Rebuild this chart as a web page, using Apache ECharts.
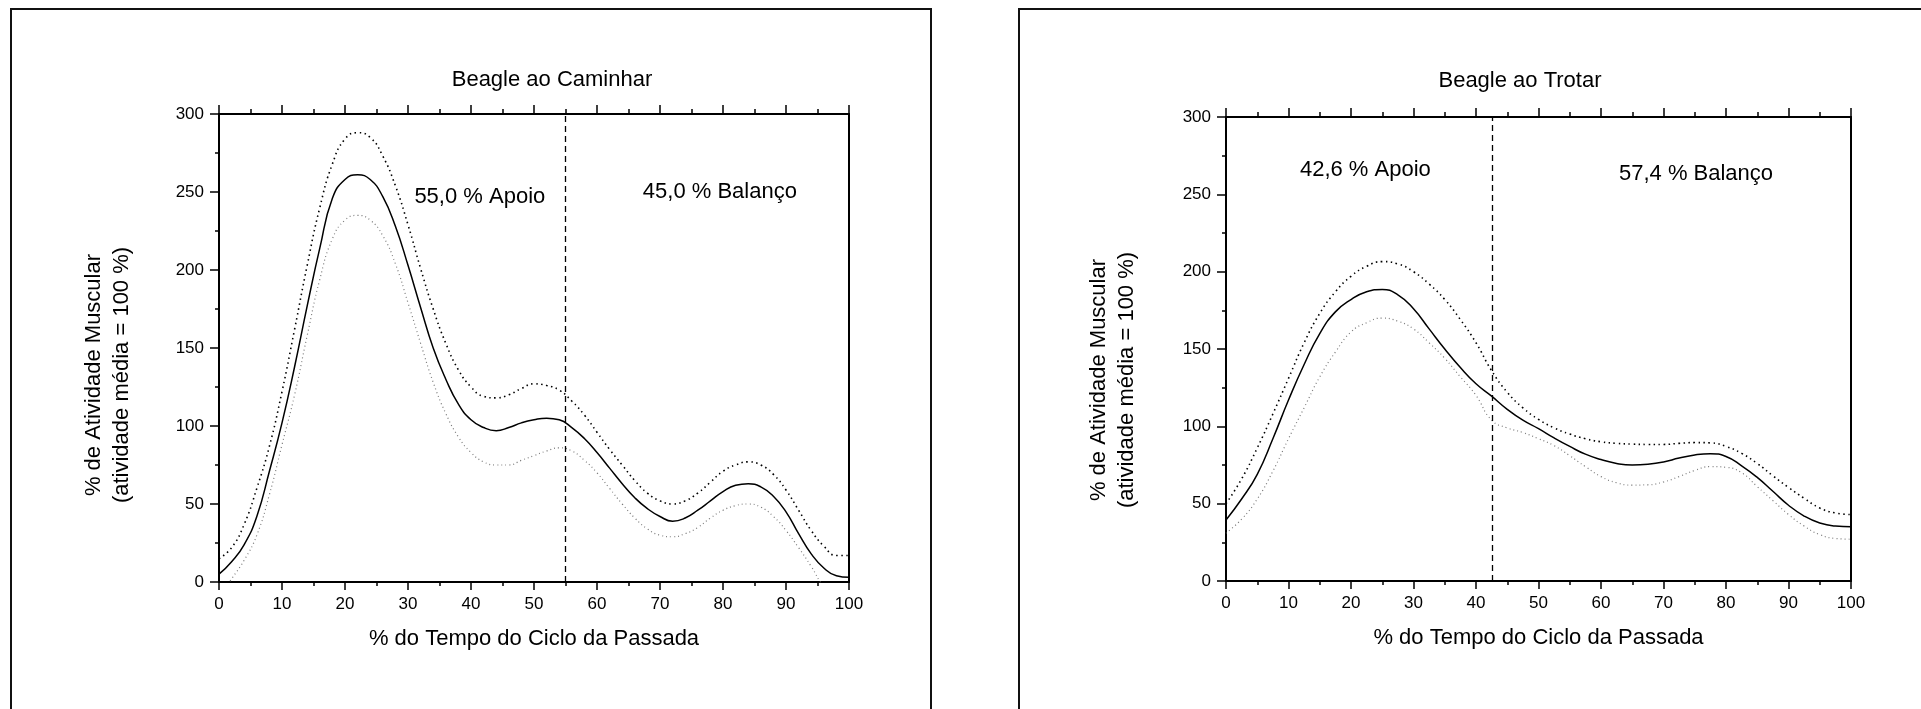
<!DOCTYPE html>
<html>
<head>
<meta charset="utf-8">
<title>Beagle - atividade muscular</title>
<script src="https://cdn.jsdelivr.net/npm/echarts@6/dist/echarts.min.js"></script>
<style>
html, body { margin: 0; padding: 0; background: #fff; }
#chart { width: 1921px; height: 709px; }
</style>
</head>
<body>
<div id="chart"></div>
<script>
var FONT = '"Liberation Sans", Arial, Helvetica, sans-serif';

// Beagle ao Caminhar, x every 2 %
var xWalk = [0,2,4,6,8,10,12,14,16,18,20,22,24,26,28,30,32,34,36,38,40,42,44,46,48,50,
             52,54,56,58,60,62,64,66,68,70,72,74,76,78,80,82,84,86,88,90,92,94,96,98,100];
var walkMean = [5,13,24,42,71,102,138,177,214,246,258,261,258,247,228,203,176,150,130,114,104,99,97,99,102,104,
                105,104,99,92,83,73,63,54,47,42,39,41,46,52,58,62,63,61,55,45,31,18,9,4,3];
var walkUpper = [15,22,37,60,87,122,162,203,240,268,284,288,285,273,254,229,201,175,153,136,125,119,118,120,124,127,
                 126,123,116,107,96,85,75,65,57,52,50,52,57,64,71,75,77,75,69,59,46,33,23,17,17];
var walkLower = [-10,2,14,30,56,88,120,158,194,220,232,235,232,222,204,179,153,128,108,93,83,77,75,75,78,81,
                 84,86,84,78,70,60,50,41,34,30,29,31,35,41,46,49,50,48,42,33,22,10,-3,-10,-12];
var walkPhase = 55.0;
var walkNotes = ['55,0 % Apoio', '45,0 % Balanço'];
var walkNoteAt = [[41.4, 247], [79.5, 250]];

// Beagle ao Trotar, x every 2.5 %
var xTrot = [0,2.5,5,7.5,10,12.5,15,17.5,20,22.5,25,27.5,30,32.5,35,37.5,40,42.5,45,47.5,50,
             52.5,55,57.5,60,62.5,65,67.5,70,72.5,75,77.5,80,82.5,85,87.5,90,92.5,95,97.5,100];
var trotMean = [39.5,53,69,92,117,140,160,174,182,187,188.5,185,176,163,150,138,127.5,119.5,111,104,98.5,
                92.5,87,82,78.5,76,75,75.5,77,79.5,81.5,82.3,80.5,74.5,67,58,49,42,37.5,35.5,35];
var trotUpper = [50,66,86,108,131,154,173,187,197,203.5,206.5,205,200,192,182,169,154,136,122,112,104.5,
                 99,95,92,90,89,88.5,88.3,88.3,89,89.5,89.3,87,82.5,76,68,60.5,53.5,47.2,44,43];
var trotLower = [31,40,53,71,92,112,132,148,161,167,170,168,163,154,144,132,120,104,99,96,92,
                 87.5,81,74,67.5,63.5,62,62.2,64,67.5,71.5,74,73.5,70,61,52,43,35.5,30,27.5,27];
var trotPhase = 42.6;
var trotNotes = ['42,6 % Apoio', '57,4 % Balanço'];
var trotNoteAt = [[22.3, 266], [75.2, 263]];

var titles = ['Beagle ao Caminhar', 'Beagle ao Trotar'];
var xName = '% do Tempo do Ciclo da Passada';
var yName = '% de Atividade Muscular\n(atividade média = 100 %)';
var xMin = 0, xMax = 100, xStep = 10;
var yMin = 0, yMax = 300, yStep = 50;

function pairs(xs, ys) {
    return xs.map(function (x, i) { return [x, ys[i]]; });
}

var grids = [
    {left: 219, top: 114, width: 630, height: 468},
    {left: 1226, top: 117, width: 625, height: 464}
];

var axisLine = {onZero: false, lineStyle: {color: '#000', width: 2}};
var tickStyle = {color: '#000', width: 1.5};

var xAxes = [], yAxes = [];
grids.forEach(function (g, i) {
    xAxes.push({
        type: 'value', gridIndex: i, position: 'bottom',
        min: xMin, max: xMax, interval: xStep,
        axisLine: axisLine,
        axisTick: {length: 8, lineStyle: tickStyle},
        minorTick: {show: true, splitNumber: 2, length: 4, lineStyle: tickStyle},
        splitLine: {show: false},
        axisLabel: {color: '#000', fontSize: 17, fontFamily: FONT, margin: 14},
        name: xName, nameLocation: 'middle', nameGap: 46,
        nameTextStyle: {color: '#000', fontSize: 22, fontFamily: FONT}
    });
    xAxes.push({
        type: 'value', gridIndex: i, position: 'top',
        min: xMin, max: xMax, interval: xStep,
        axisLine: axisLine,
        axisTick: {length: 9, lineStyle: tickStyle},
        minorTick: {show: true, splitNumber: 2, length: 5, lineStyle: tickStyle},
        splitLine: {show: false},
        axisLabel: {show: false}
    });
    yAxes.push({
        type: 'value', gridIndex: i, position: 'left',
        min: yMin, max: yMax, interval: yStep,
        axisLine: axisLine,
        axisTick: {show: true, length: 9, lineStyle: tickStyle},
        minorTick: {show: true, splitNumber: 2, length: 4, lineStyle: tickStyle},
        splitLine: {show: false},
        axisLabel: {color: '#000', fontSize: 17, fontFamily: FONT, margin: 15}
    });
    yAxes.push({
        type: 'value', gridIndex: i, position: 'right',
        min: yMin, max: yMax, interval: yStep,
        axisLine: axisLine,
        axisTick: {show: false},
        splitLine: {show: false},
        axisLabel: {show: false}
    });
});

function panelSeries(i, xs, mean, upper, lower, phase, notes, noteAt) {
    var base = {
        type: 'line', xAxisIndex: i * 2, yAxisIndex: i * 2,
        smooth: 0.5, showSymbol: false, symbol: 'none', silent: true, clip: true
    };
    return [
        Object.assign({}, base, {
            data: pairs(xs, lower),
            lineStyle: {color: '#7a7a7a', width: 1.2, type: [1, 3]}
        }),
        Object.assign({}, base, {
            data: pairs(xs, upper),
            lineStyle: {color: '#000', width: 1.6, type: [1.5, 3.5]}
        }),
        Object.assign({}, base, {
            data: pairs(xs, mean),
            lineStyle: {color: '#000', width: 1.5},
            markLine: {
                silent: true, symbol: 'none',
                label: {show: false},
                lineStyle: {color: '#000', width: 1.3, type: [6, 4]},
                data: [{xAxis: phase}]
            },
            markPoint: {
                silent: true, symbolSize: 0,
                label: {show: true, position: 'inside', color: '#000', fontSize: 22, fontFamily: FONT},
                data: notes.map(function (t, k) {
                    return {coord: noteAt[k], value: t, label: {formatter: t}};
                })
            }
        })
    ];
}

var series = [].concat(
    panelSeries(0, xWalk, walkMean, walkUpper, walkLower, walkPhase, walkNotes, walkNoteAt),
    panelSeries(1, xTrot, trotMean, trotUpper, trotLower, trotPhase, trotNotes, trotNoteAt)
);

var textStyle = {fill: '#000', fontSize: 22, fontFamily: FONT, align: 'center', verticalAlign: 'middle'};

var graphic = [
    {type: 'rect', shape: {x: 11, y: 9, width: 920, height: 800},
     style: {fill: 'none', stroke: '#111', lineWidth: 2}, silent: true},
    {type: 'rect', shape: {x: 1019, y: 9, width: 1000, height: 800},
     style: {fill: 'none', stroke: '#111', lineWidth: 2}, silent: true},
    {type: 'text', x: 552, y: 80, style: Object.assign({text: titles[0]}, textStyle)},
    {type: 'text', x: 1520, y: 81, style: Object.assign({text: titles[1]}, textStyle)},
    {type: 'text', x: 108, y: 375, rotation: Math.PI / 2,
     style: Object.assign({text: yName, lineHeight: 28}, textStyle)},
    {type: 'text', x: 1113, y: 380, rotation: Math.PI / 2,
     style: Object.assign({text: yName, lineHeight: 28}, textStyle)}
];

var myChart = echarts.init(document.getElementById('chart'));
myChart.setOption({
    animation: false,
    backgroundColor: '#fff',
    grid: grids,
    xAxis: xAxes,
    yAxis: yAxes,
    series: series,
    graphic: graphic
});
</script>
</body>
</html>
